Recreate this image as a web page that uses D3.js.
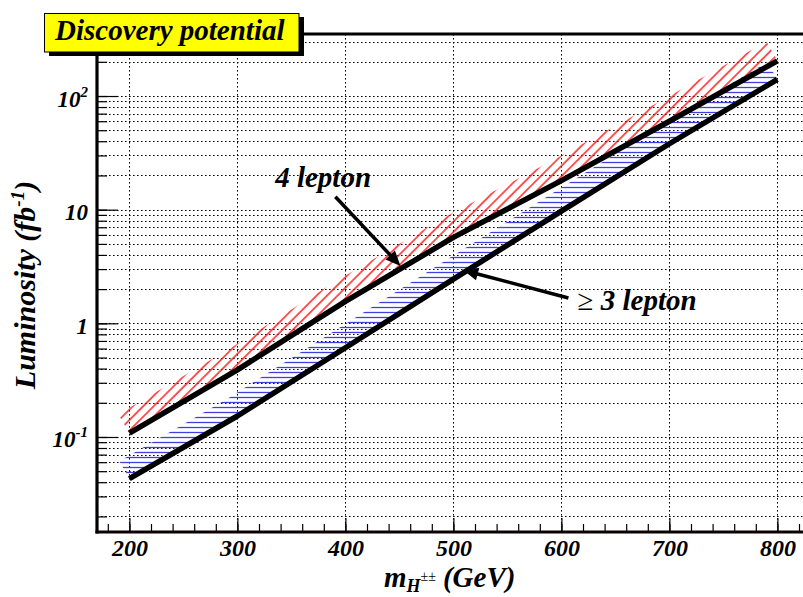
<!DOCTYPE html>
<html>
<head>
<meta charset="utf-8">
<script src="https://cdn.jsdelivr.net/npm/d3@7"></script>
<style>
  body { margin: 0; background: #fff; }
  svg { display: block; }
</style>
</head>
<body>
<svg id="chart" width="803" height="597"></svg>
<script>
// Higgs mass points (GeV)
const mass = [200, 300, 400, 500, 600, 700, 800];
// luminosity needed for discovery (fb^-1)
const lum4 = [0.108, 0.39, 1.56, 5.7, 18, 60, 204];
const lum3 = [0.043, 0.153, 0.61, 2.45, 9.7, 38, 140];

// x tick values
const xMajor = [200, 300, 400, 500, 600, 700, 800];
const xMinor = d3.range(180, 830, 20);
// y tick labels: value, base, exponent
const yLabels = [[100, "10", "2"], [10, "10", ""], [1, "1", ""], [0.1, "10", "-1"]];

// arrow annotations: label pos (m, L), tail (m, L), tip (m, L)
const notes = [
  { text: "4 lepton", lx: 335, ly: 15.8, tail: [390.7, 13.0], tip: [451, 3.2] },
  { text: "3 lepton", lx: 615, ly: 1.31, tail: [606.5, 1.67], tip: [509, 2.94], sym: "\u2265 " }
];

const FONT = "'Liberation Serif', Tinos, 'Nimbus Roman', 'Times New Roman', 'DejaVu Serif', serif";

const svg = d3.select("#chart");

const x = d3.scaleLinear().domain([170, 830]).range([97, 809.8]);
const y = d3.scaleLog().domain([0.01459, 351.3]).range([532, 34]);

const pLeft = 97, pBottom = 532, pTop = 34, pRight = 803;

function label(sel) {
  return sel.append("text")
    .attr("font-family", FONT)
    .attr("font-weight", "bold")
    .attr("font-style", "italic")
    .attr("fill", "#000");
}

//defs / hatch patterns
const defs = svg.append("defs");
defs.append("pattern")
  .attr("id", "hatchBlue")
  .attr("patternUnits", "userSpaceOnUse")
  .attr("width", 10).attr("height", 5)
  .append("line")
  .attr("x1", 0).attr("x2", 10).attr("y1", 2.5).attr("y2", 2.5)
  .attr("stroke", "#4040e0").attr("stroke-width", 1.3);
defs.append("pattern")
  .attr("id", "hatchRed")
  .attr("patternUnits", "userSpaceOnUse")
  .attr("patternTransform", "rotate(-45)")
  .attr("width", 10).attr("height", 7.4)
  .append("line")
  .attr("x1", 0).attr("x2", 10).attr("y1", 3.7).attr("y2", 3.7)
  .attr("stroke", "#ff0000").attr("stroke-width", 1.3);

defs.append("clipPath").attr("id", "frame")
  .append("rect").attr("x", pLeft).attr("y", pTop).attr("width", pRight - pLeft).attr("height", pBottom - pTop);

//grid
const grid = svg.append("g").attr("class", "grid")
  .attr("stroke", "#000").attr("stroke-width", 1).attr("stroke-dasharray", "1.6,2.4");
grid.selectAll("line.v").data(xMajor).enter().append("line")
  .attr("x1", d => Math.round(x(d)) + 0.5).attr("x2", d => Math.round(x(d)) + 0.5)
  .attr("y1", pTop).attr("y2", pBottom);
const yAll = y.ticks().filter(v => v > y.domain()[0] && v < y.domain()[1]);
grid.selectAll("line.h").data(yAll).enter().append("line")
  .attr("y1", d => Math.round(y(d)) + 0.5).attr("y2", d => Math.round(y(d)) + 0.5)
  .attr("x1", pLeft).attr("x2", pRight);

//hatched bands on the upper-left side of each curve
function band(vals, w) {
  const pts = mass.map((m, i) => [x(m), y(vals[i])]);
  const normals = [];
  for (let i = 0; i < pts.length - 1; i++) {
    const dx = pts[i + 1][0] - pts[i][0], dy = pts[i + 1][1] - pts[i][1];
    const len = Math.hypot(dx, dy);
    normals.push([dy / len, -dx / len]);
  }
  const off = pts.map((p, i) => {
    const a = normals[Math.max(0, i - 1)], b = normals[Math.min(normals.length - 1, i)];
    const nx = a[0] + b[0], ny = a[1] + b[1];
    const l = Math.hypot(nx, ny);
    return [p[0] + nx / l * w, p[1] + ny / l * w];
  });
  return pts.concat(off.reverse());
}

const bands = svg.append("g").attr("clip-path", "url(#frame)");
bands.append("path")
  .attr("d", "M" + band(lum4, 22).join("L") + "Z")
  .attr("fill", "url(#hatchRed)");
bands.append("path")
  .attr("d", "M" + band(lum3, 20).join("L") + "Z")
  .attr("fill", "url(#hatchBlue)");

//curves
const line = d3.line().x((d, i) => x(mass[i])).y(d => y(d));
[lum4, lum3].forEach(vals => {
  svg.append("path")
    .attr("d", line(vals))
    .attr("fill", "none")
    .attr("stroke", "#000")
    .attr("stroke-width", 5.5)
    .attr("stroke-linejoin", "round");
});

//arrows + labels
notes.forEach(n => {
  const x0 = x(n.tail[0]), y0 = y(n.tail[1]);
  const x1 = x(n.tip[0]), y1 = y(n.tip[1]);
  const len = Math.hypot(x1 - x0, y1 - y0);
  const ux = (x1 - x0) / len, uy = (y1 - y0) / len;
  const hl = 15, hw = 6.5;
  const bx = x1 - ux * hl, by = y1 - uy * hl;
  svg.append("line")
    .attr("x1", x0).attr("y1", y0).attr("x2", bx + ux * 2).attr("y2", by + uy * 2)
    .attr("stroke", "#000").attr("stroke-width", 3.5);
  svg.append("path")
    .attr("d", `M${x1},${y1}L${bx - uy * hw},${by + ux * hw}L${bx + uy * hw},${by - ux * hw}Z`)
    .attr("fill", "#000");
  const t = label(svg)
    .attr("x", x(n.lx)).attr("y", y(n.ly))
    .attr("font-size", 29);
  if (n.sym) t.append("tspan").attr("font-style", "normal").attr("font-weight", "normal").text(n.sym);
  t.append("tspan").text(n.text);
});

//axes
const xAxisMinor = d3.axisBottom(x).tickValues(xMinor).tickSize(-8).tickFormat("");
const xAxisMajor = d3.axisBottom(x).tickValues(xMajor).tickSize(-14).tickFormat(d3.format("d"));
const gxm = svg.append("g").attr("transform", `translate(0,${pBottom})`).call(xAxisMinor);
const gx = svg.append("g").attr("transform", `translate(0,${pBottom})`).call(xAxisMajor);
[gxm, gx].forEach(g => {
  g.select(".domain").remove();
  g.selectAll(".tick line").attr("stroke", "#000").attr("stroke-width", 1.2);
});
gx.selectAll(".tick text")
  .attr("y", 24).attr("dy", 0)
  .attr("font-size", 24)
  .attr("font-family", FONT)
  .attr("font-weight", "bold")
  .attr("font-style", "italic")
  .attr("fill", "#000");

const yMajor = yLabels.map(d => d[0]);
const yAxisMinor = d3.axisLeft(y).tickValues(yAll).tickSize(-10).tickFormat("");
const yAxisMajor = d3.axisLeft(y).tickValues(yMajor).tickSize(-21).tickFormat("");
const gym = svg.append("g").attr("transform", `translate(${pLeft},0)`).call(yAxisMinor);
const gy = svg.append("g").attr("transform", `translate(${pLeft},0)`).call(yAxisMajor);
[gym, gy].forEach(g => {
  g.select(".domain").remove();
  g.selectAll(".tick line").attr("stroke", "#000").attr("stroke-width", 1.2);
});
yLabels.forEach(([v, base, exp]) => {
  const t = label(svg)
    .attr("x", 88).attr("y", y(v) + 10.5)
    .attr("text-anchor", "end")
    .attr("font-size", 23);
  t.append("tspan").text(base);
  if (exp) t.append("tspan").attr("font-size", 15).attr("dy", -10).text(exp);
});

//frame
svg.append("line").attr("x1", pLeft).attr("x2", pLeft).attr("y1", pTop).attr("y2", pBottom + 1.5)
  .attr("stroke", "#000").attr("stroke-width", 3.2);
svg.append("line").attr("x1", pLeft - 1.5).attr("x2", pRight).attr("y1", pBottom).attr("y2", pBottom)
  .attr("stroke", "#0d0000").attr("stroke-width", 3.2);
svg.append("line").attr("x1", pLeft - 1.5).attr("x2", pRight).attr("y1", pTop).attr("y2", pTop)
  .attr("stroke", "#000").attr("stroke-width", 3.2);

//axis titles
const xt = label(svg).attr("x", 384).attr("y", 587).attr("font-size", 29);
xt.append("tspan").text("m");
xt.append("tspan").attr("font-size", 18).attr("dy", 5).text("H");
xt.append("tspan").attr("font-size", 14).attr("dy", -11).attr("font-style", "normal").attr("font-weight", "normal").text("\u00b1\u00b1");
xt.append("tspan").attr("dy", 6).attr("dx", 7).text("(GeV)");

const yt = label(svg)
  .attr("transform", "translate(35,285) rotate(-90)")
  .attr("text-anchor", "middle")
  .attr("font-size", 30);
yt.append("tspan").text("Luminosity (fb");
yt.append("tspan").attr("font-size", 19).attr("dy", -11).text("-1");
yt.append("tspan").attr("dy", 11).text(")");

//title box
svg.append("rect").attr("x", 49).attr("y", 17).attr("width", 255).attr("height", 39).attr("fill", "#000");
svg.append("rect").attr("x", 44.5).attr("y", 13.5).attr("width", 254.5).attr("height", 38.5)
  .attr("fill", "#ffff00").attr("stroke", "#000").attr("stroke-width", 1);
label(svg).attr("x", 55).attr("y", 40).attr("font-size", 29).text("Discovery potential");
</script>
</body>
</html>
